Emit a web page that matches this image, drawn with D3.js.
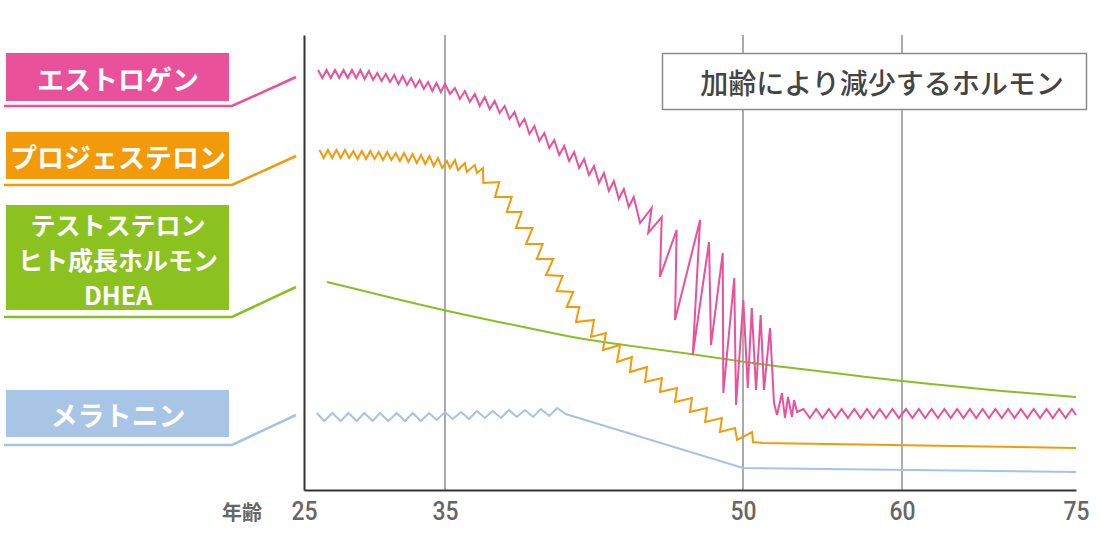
<!DOCTYPE html>
<html><head><meta charset="utf-8">
<script src="https://cdn.jsdelivr.net/npm/d3@7"></script>
<style>
html,body{margin:0;padding:0;background:#fff;}
svg{display:block;}
</style></head>
<body>
<svg id="chart" width="1100" height="550"></svg>
<script>
// ---------- data ----------
const ageTicks = [25, 35, 50, 60, 75];
const gridAges = [35, 50, 60];
const axisLabel = "年齢";
const title = "加齢により減少するホルモン";

const seriesNames = ["エストロゲン", "プロジェステロン", "テストステロン\nヒト成長ホルモン\nDHEA", "メラトニン"];
const seriesColors = ["#E9519A", "#F39A0B", "#86C023", "#A5C3E7"];
const boxColors = ["#E9519A", "#F39A0B", "#8CC220", "#A8C5E6"];

// estrogen (relative level)
const estrogenAge = [
26.0,26.3,26.6,26.9,27.2,27.5,27.8,28.1,28.4,28.7,29.0,29.3,29.6,29.9,30.2,30.5,30.8,31.1,31.4,31.7,32.0,32.3,32.6,32.9,33.2,33.5,33.8,34.1,34.4,34.7,35.0,
35.25,35.5,35.75,36.0,36.25,36.5,36.75,37.0,37.25,37.5,37.75,38.0,38.25,38.5,38.75,39.0,39.25,39.5,39.75,40.0,40.25,40.5,40.75,41.0,41.25,41.5,41.75,42.0,42.25,42.5,42.75,43.0,43.25,43.5,43.75,44.0,44.25,44.5,
44.82,45.40,45.23,45.91,45.82,46.66,46.58,47.84,47.47,48.29,48.39,48.98,49.01,49.56,49.65,50.02,50.30,50.55,50.82,51.11,51.32,51.70,51.95,52.14,52.45,52.64,52.83,53.08,53.21,53.40,
53.8,54.2,54.6,55.0,55.4,55.8,56.2,56.6,57.0,57.4,57.8,58.2,58.6,59.0,59.4,59.8,60.35,60.9,61.45,62.0,62.55,63.1,63.65,64.2,64.75,65.3,65.85,66.4,66.95,67.5,68.05,68.6,69.15,69.7,70.25,70.8,71.35,71.9,72.45,73.0,73.55,74.1,74.65,75.0];
const estrogenLevel = [
420,412,420,412,420,412,420,412,420,412,420,411,419,410,417,409,416,408,415,406,414,405,412,403,410,401,408,399,407,398,406,
396,402,391,399,388,396,384,393,381,389,377,384,371,378,364,371,356,364,349,357,342,350,335,344,329,338,322,331,315,324,307,317,299,309,291,301,283,293,
267,282,257,273,213,260,170,270,135,248,145,237,97,212,85,190,102,182,100,175,100,162,87,75,97,72,93,73,90,78,
81,72,81,72,81,72,81,72,81,72,81,72,81,72,81,72,81,72,81,72,81,72,81,72,81,72,81,72,81,72,81,72,81,72,81,72,81,72,81,72,81,72,81,75];

// progesterone
const progesteroneAge = [
26.1,26.4,26.7,27.0,27.3,27.6,27.9,28.2,28.5,28.8,29.1,29.4,29.7,30.0,30.3,30.6,30.9,31.2,31.5,31.8,32.1,32.4,32.7,33.0,33.3,33.6,33.9,34.2,34.5,34.8,
35.1,35.25,35.5,35.65,36.0,36.1,36.5,36.61,36.91,
36.93,37.73,37.52,38.36,38.11,38.86,38.57,39.41,39.08,39.92,39.62,40.45,40.08,40.92,40.62,41.46,41.12,41.76,
41.59,42.50,42.35,43.10,42.95,43.81,43.66,44.41,44.31,45.17,45.07,45.92,45.82,46.68,46.58,47.43,47.33,48.19,48.09,48.94,48.84,49.60,49.70,50.57,50.63,51.26,75.0];
const progesteroneLevel = [
340,332,340,332,340,332,340,332,339,331,339,331,339,331,338,330,338,330,337,329,337,328,336,327,335,326,334,324,332,322,
329,322,330,320,327,318,325,317,322,
307,308,293,293,278,278,262,262,246,246,231,231,215,214,199,198,183,183,
168,170,153,157,140,145,128,133,118,123,108,112,98,102,88,92,78,82,68,72,58,62,50,58,48,47,42];

// testosterone / growth hormone / DHEA
const testosteroneAge = [26.63, 35.0, 37.77, 41.29, 42.80, 47.84, 50.0, 53.58, 56.73, 59.43, 64.14, 68.45, 75.0];
const testosteroneLevel = [208, 179, 168, 153, 148, 135, 128, 121, 115, 110, 104, 99, 93];

// melatonin
const melatoninAge = [25.90,26.44,27.01,27.60,28.15,28.74,29.28,29.87,30.39,30.98,31.57,32.16,32.71,33.28,33.87,34.41,35.0,35.39,35.81,36.21,36.60,37.01,37.40,37.82,38.22,38.61,39.03,39.44,39.83,40.25,40.65,41.07,50.0,75.0];
const melatoninLevel = [77,69,77,69,77,69,77,69,77,69,77,69,77,69,77,70,78,71,78,71,79,72,79,72,80,73,80,73,81,74,82,76,22,18];

// ---------- drawing ----------
const svg = d3.select("#chart");
const x = d3.scaleLinear().domain(ageTicks).range([304, 445, 743, 902, 1076]);
const y = d3.scaleLinear().domain([0, 455]).range([490, 35]);

const zip = (a, b) => a.map((v, i) => [v, b[i]]);
const seriesData = [
  zip(estrogenAge, estrogenLevel),
  zip(progesteroneAge, progesteroneLevel),
  zip(testosteroneAge, testosteroneLevel),
  zip(melatoninAge, melatoninLevel)
];

// grid lines
svg.append("g").selectAll("line").data(gridAges).join("line")
  .attr("x1", d => x(d)).attr("x2", d => x(d))
  .attr("y1", y(455)).attr("y2", y(0))
  .attr("stroke", "#ababab").attr("stroke-width", 2);

// title box
const tb = svg.append("g");
tb.append("rect").attr("x", 662.5).attr("y", 53.5).attr("width", 424).attr("height", 56)
  .attr("fill", "#fff").attr("stroke", "#8a8a8a").attr("stroke-width", 1.5);
tb.append("text").attr("x", 882).attr("y", 82).attr("text-anchor", "middle")
  .attr("dominant-baseline", "central")
  .attr("font-family", "'Noto Sans CJK JP', sans-serif").attr("font-weight", 500)
  .attr("font-size", 28).attr("fill", "#444").text(title);

// axes
const xAxis = d3.axisBottom(x).tickValues(ageTicks).tickSize(0).tickPadding(0).tickFormat(d3.format("d"));
const gx = svg.append("g").attr("transform", `translate(0,${y(0)})`).call(xAxis);
gx.select(".domain").attr("stroke", "#333").attr("stroke-width", 2);
gx.selectAll(".tick text")
  .attr("y", 21).attr("dy", null).attr("dominant-baseline", "central")
  .attr("font-family", "Roboto, sans-serif").attr("font-weight", 500)
  .attr("font-size", 26).attr("fill", "#666")
  .attr("textLength", 26).attr("lengthAdjust", "spacingAndGlyphs");
const yAxis = d3.axisLeft(y).tickValues([]).tickSize(0);
const gy = svg.append("g").attr("transform", `translate(${x(25)},0)`).call(yAxis);
gy.select(".domain").attr("stroke", "#333").attr("stroke-width", 2);

svg.append("text").attr("x", 242).attr("y", 511).attr("text-anchor", "middle")
  .attr("dominant-baseline", "central")
  .attr("font-family", "'Noto Sans CJK JP', sans-serif").attr("font-weight", 700)
  .attr("font-size", 20).attr("fill", "#666").text(axisLabel);

// lines
const lineZig = d3.line().x(d => x(d[0])).y(d => y(d[1]));
const lineSmooth = d3.line().x(d => x(d[0])).y(d => y(d[1])).curve(d3.curveBasis);
const order = [2, 3, 1, 0];
svg.append("g").selectAll("path").data(order).join("path")
  .attr("d", i => (i === 2 ? lineSmooth : lineZig)(seriesData[i]))
  .attr("fill", "none").attr("stroke", i => seriesColors[i])
  .attr("stroke-width", 2).attr("stroke-linejoin", "miter").attr("stroke-miterlimit", 4);

// legend boxes
const legendBoxes = [
  {top: 53, bottom: 101, line: 106, endY: 77},
  {top: 132, bottom: 179, line: 185, endY: 156},
  {top: 205, bottom: 310, line: 317, endY: 287},
  {top: 390, bottom: 437, line: 445, endY: 415}
];
const lg = svg.append("g");
legendBoxes.forEach((b, i) => {
  lg.append("rect").attr("x", 6).attr("y", b.top).attr("width", 223).attr("height", b.bottom - b.top)
    .attr("fill", boxColors[i]);
  const lines = seriesNames[i].split("\n");
  const mid = (b.top + b.bottom) / 2;
  const lh = 35;
  const fs = lines.length > 1 ? 25 : 27;
  lines.forEach((t, j) => {
    lg.append("text").attr("x", 118).attr("y", mid + (j - (lines.length - 1) / 2) * lh + 1)
      .attr("text-anchor", "middle").attr("dominant-baseline", "central")
      .attr("font-family", "'Noto Sans CJK JP', sans-serif").attr("font-weight", 700)
      .attr("font-size", fs).attr("fill", "#fff").text(t);
  });
  lg.append("polyline")
    .attr("points", `4,${b.line} 232,${b.line} 296,${b.endY}`)
    .attr("fill", "none").attr("stroke", seriesColors[i]).attr("stroke-width", 2.5);
});
</script>
</body></html>
